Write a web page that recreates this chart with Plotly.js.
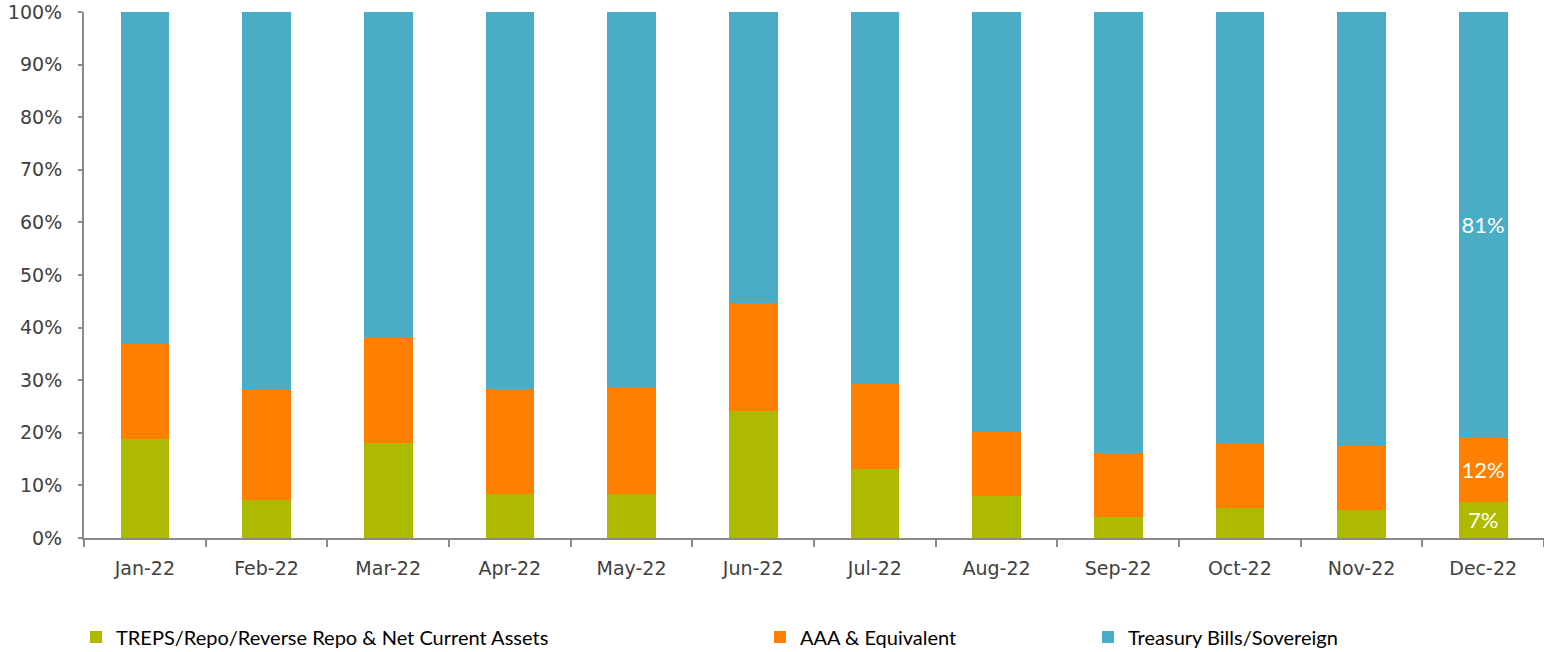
<!DOCTYPE html>
<html>
<head>
<meta charset="utf-8">
<script src="https://cdn.plot.ly/plotly-3.0.1.min.js"></script>
<style>
html,body{margin:0;padding:0;background:#fff;}
#chart{width:1544px;height:652px;}
</style>
</head>
<body>
<div id="chart"></div>
<script>
const months = ['Jan-22','Feb-22','Mar-22','Apr-22','May-22','Jun-22','Jul-22','Aug-22','Sep-22','Oct-22','Nov-22','Dec-22'];
const treps = [18.8, 7.2, 18.1, 8.4, 8.4, 24.2, 13.2, 7.9, 3.9, 5.7, 5.4, 6.9];
const aaa = [18.0, 20.9, 19.9, 20.0, 20.1, 20.5, 16.1, 12.2, 12.2, 12.2, 12.0, 12.2];
const treasury = months.map((m, i) => 100 - treps[i] - aaa[i]);
const trepsLabels = ['', '', '', '', '', '', '', '', '', '', '', '7%'];
const aaaLabels = ['', '', '', '', '', '', '', '', '', '', '', '12%'];
const treasuryLabels = ['', '', '', '', '', '', '', '', '', '', '', '81%'];
const seriesNames = ['TREPS/Repo/Reverse Repo & Net Current Assets', 'AAA & Equivalent', 'Treasury Bills/Sovereign'];
const colors = ['#AEBA00', '#FF7F00', '#4BACC6'];

const condFamily = 'Lato, "Liberation Sans Narrow", sans-serif';
const labelFont = {family: condFamily, size: 22, color: '#ffffff'};
function mk(y, name, color, text, legend) {
  return {
    type: 'bar', x: months, y: y, name: name, legend: legend,
    marker: {color: color, line: {width: 0}},
    text: text, textposition: 'inside', insidetextanchor: 'middle',
    textangle: 0, constraintext: 'none', insidetextfont: labelFont,
    hoverinfo: 'x+y+name'
  };
}
const data = [
  mk(treps, seriesNames[0], colors[0], trepsLabels, 'legend'),
  mk(aaa, seriesNames[1], colors[1], aaaLabels, 'legend2'),
  mk(treasury, seriesNames[2], colors[2], treasuryLabels, 'legend3')
];
const legFont = {family: condFamily, size: 20, color: '#000000'};
function leg(px) {
  return {x: px / 1544, y: 1 - 637 / 652, xref: 'container', yref: 'container',
    xanchor: 'left', yanchor: 'middle', orientation: 'h',
    font: legFont, bgcolor: 'rgba(0,0,0,0)', borderwidth: 0};
}
const tickFont = {family: '"DejaVu Sans", sans-serif', size: 19, color: '#404040'};
const layout = {
  width: 1544, height: 652,
  margin: {l: 84, r: 0, t: 12, b: 114, autoexpand: false},
  paper_bgcolor: '#ffffff', plot_bgcolor: '#ffffff',
  barmode: 'stack', bargap: 0.6,
  showlegend: true,
  legend: leg(76),
  legend2: leg(760),
  legend3: leg(1088),
  xaxis: {
    type: 'category', showgrid: false, zeroline: false,
    showline: true, linecolor: '#8a8a8a', linewidth: 2,
    ticks: 'outside', tickson: 'boundaries', ticklen: 7, tickwidth: 2, tickcolor: '#8a8a8a',
    tickfont: tickFont, ticklabelstandoff: 12, ticklabeloverflow: 'allow'
  },
  yaxis: {
    range: [0, 100], dtick: 10, ticksuffix: '%', showgrid: false, zeroline: false,
    showline: true, linecolor: '#8a8a8a', linewidth: 2,
    ticks: 'outside', ticklen: 4, tickwidth: 2, tickcolor: '#8a8a8a',
    tickfont: tickFont, ticklabelstandoff: 12, ticklabeloverflow: 'allow'
  }
};
Plotly.newPlot('chart', data, layout, {displayModeBar: false, staticPlot: true});
</script>
</body>
</html>
